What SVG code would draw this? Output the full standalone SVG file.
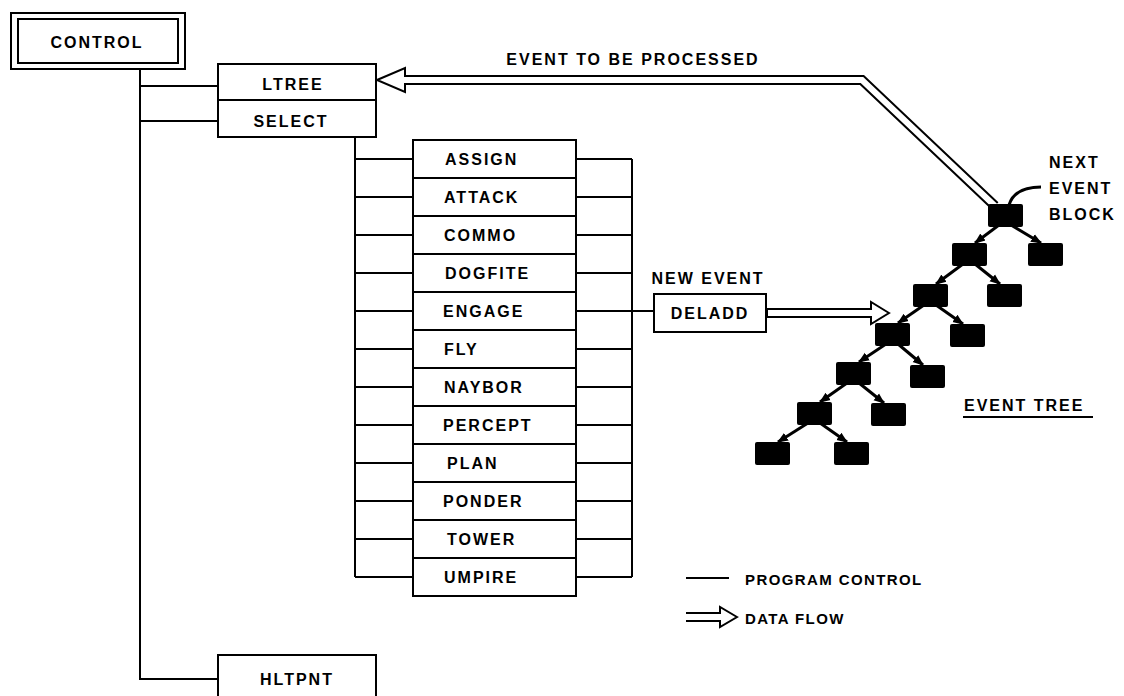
<svg xmlns="http://www.w3.org/2000/svg" width="1124" height="696" viewBox="0 0 1124 696">
<defs>
<style>
.box{fill:#fff;stroke:#000;stroke-width:2}
.ln{fill:none;stroke:#000;stroke-width:2}
.tl{fill:none;stroke:#000;stroke-width:3}
.t{font-family:"Liberation Sans",Arial,sans-serif;font-size:16px;font-weight:bold;letter-spacing:2px;fill:#000}
.m{text-anchor:middle}
.lg{font-size:15px;letter-spacing:1.4px}
.blk{fill:#000}
.dfo{fill:none;stroke:#000;stroke-width:10;stroke-linejoin:miter}
.dfi{fill:none;stroke:#fff;stroke-width:6;stroke-linejoin:miter}
.ah{fill:#fff;stroke:#000;stroke-width:2;stroke-linejoin:miter}
</style>
<marker id="tri" viewBox="0 0 10 10" refX="9" refY="5" markerWidth="11" markerHeight="11" markerUnits="userSpaceOnUse" orient="auto">
<path d="M0,1 L10,5 L0,9 z" fill="#000"/>
</marker>
</defs>
<rect width="1124" height="696" fill="#fff"/>

<g id="connectors">
<path class="ln" d="M140 69 V679 H218"/>
<path class="ln" d="M140 86 H218 M140 121 H218"/>
<path class="ln" d="M355 137 V577"/>
<path class="ln" d="M355 159 H413 M355 197 H413 M355 235 H413 M355 273 H413 M355 311 H413 M355 349 H413 M355 387 H413 M355 425 H413 M355 463 H413 M355 501 H413 M355 539 H413 M355 577 H413"/>
<path class="ln" d="M632 159 V577"/>
<path class="ln" d="M576 159 H632 M576 197 H632 M576 235 H632 M576 273 H632 M576 311 H654 M576 349 H632 M576 387 H632 M576 425 H632 M576 463 H632 M576 501 H632 M576 539 H632 M576 577 H632"/>
<path class="dfo" d="M405 80 H862 L995 206"/>
<polygon class="ah" points="377,80 405,68 405,92"/>
<path class="dfi" d="M395 80 H862 L995 206"/>
<path class="dfo" d="M766 313 H871"/>
<polygon class="ah" points="889,313 871,302 871,324"/>
<path class="dfi" d="M768 313 H875"/>
<g class="tl" marker-end="url(#tri)">
<path d="M999 225 L975 243"/>
<path d="M1011 225 L1041 243"/>
<path d="M963 264 L936 284"/>
<path d="M975 264 L1000 284"/>
<path d="M924 305 L898 323"/>
<path d="M936 305 L963 324"/>
<path d="M886 344 L859 362"/>
<path d="M898 344 L923 365"/>
<path d="M847 383 L820 402"/>
<path d="M859 383 L884 403"/>
<path d="M808 423 L778 442"/>
<path d="M820 423 L847 442"/>
</g>
<path d="M1041 187 C1024 187 1013 192 1009 205" fill="none" stroke="#000" stroke-width="3"/>
</g>

<g id="control">
<rect class="box" x="11" y="13" width="174" height="56"/>
<rect class="box" x="18" y="19" width="160" height="44"/>
<text class="t m" x="97" y="48">CONTROL</text>
</g>
<g id="ltree">
<rect class="box" x="218" y="64" width="158" height="36"/>
<text class="t m" x="293" y="90">LTREE</text>
</g>
<g id="select">
<rect class="box" x="218" y="100" width="158" height="37"/>
<text class="t m" x="291" y="127">SELECT</text>
</g>
<g id="hltpnt">
<path class="box" d="M218 710 V655 H376 V710"/>
<text class="t m" x="297" y="685">HLTPNT</text>
</g>

<g id="routines">
<rect class="box" x="413" y="140" width="163" height="456"/>
<path class="ln" d="M413 178 H576 M413 216 H576 M413 254 H576 M413 292 H576 M413 330 H576 M413 368 H576 M413 406 H576 M413 444 H576 M413 482 H576 M413 520 H576 M413 558 H576"/>
<g id="assign"><text class="t" x="445" y="165">ASSIGN</text></g>
<g id="attack"><text class="t" x="444" y="203">ATTACK</text></g>
<g id="commo"><text class="t" x="444" y="241">COMMO</text></g>
<g id="dogfite"><text class="t" x="445" y="279">DOGFITE</text></g>
<g id="engage"><text class="t" x="443" y="317">ENGAGE</text></g>
<g id="fly"><text class="t" x="444" y="355">FLY</text></g>
<g id="naybor"><text class="t" x="444" y="393">NAYBOR</text></g>
<g id="percept"><text class="t" x="443" y="431">PERCEPT</text></g>
<g id="plan"><text class="t" x="447" y="469">PLAN</text></g>
<g id="ponder"><text class="t" x="443" y="507">PONDER</text></g>
<g id="tower"><text class="t" x="447" y="545">TOWER</text></g>
<g id="umpire"><text class="t" x="444" y="583">UMPIRE</text></g>
</g>

<g id="deladd">
<rect class="box" x="654" y="294" width="112" height="38"/>
<text class="t m" x="710" y="319">DELADD</text>
<text class="t m" x="708" y="284">NEW EVENT</text>
</g>

<text class="t m" x="633" y="65">EVENT TO BE PROCESSED</text>

<g id="event-tree">
<rect class="blk" x="988" y="204" width="35" height="23" rx="2"/>
<rect class="blk" x="952" y="243" width="35" height="23" rx="2"/>
<rect class="blk" x="1028" y="243" width="35" height="23" rx="2"/>
<rect class="blk" x="913" y="284" width="35" height="23" rx="2"/>
<rect class="blk" x="987" y="284" width="35" height="23" rx="2"/>
<rect class="blk" x="875" y="323" width="35" height="23" rx="2"/>
<rect class="blk" x="950" y="324" width="35" height="23" rx="2"/>
<rect class="blk" x="836" y="362" width="35" height="23" rx="2"/>
<rect class="blk" x="910" y="365" width="35" height="23" rx="2"/>
<rect class="blk" x="797" y="402" width="35" height="23" rx="2"/>
<rect class="blk" x="871" y="403" width="35" height="23" rx="2"/>
<rect class="blk" x="755" y="442" width="35" height="23" rx="2"/>
<rect class="blk" x="834" y="442" width="35" height="23" rx="2"/>
<text class="t" x="1049" y="168">NEXT</text>
<text class="t" x="1049" y="194">EVENT</text>
<text class="t" x="1049" y="220">BLOCK</text>
<text class="t" x="964" y="411">EVENT TREE</text>
<path class="ln" d="M963 417 H1093"/>
</g>

<g id="legend">
<path class="ln" d="M686 578 H729"/>
<text class="t lg" x="745" y="585">PROGRAM CONTROL</text>
<path class="dfo" d="M686 617 H720"/>
<polygon class="ah" points="737,617 720,607 720,627"/>
<path class="dfi" d="M686 617 H724"/>
<text class="t lg" x="745" y="624">DATA FLOW</text>
</g>
</svg>
